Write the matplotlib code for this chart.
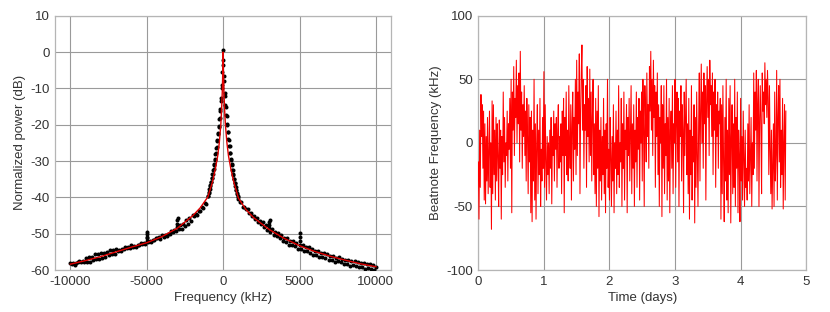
import numpy as np
import matplotlib
matplotlib.use("Agg")
import matplotlib.pyplot as plt

plt.rcParams['font.family'] = ['Liberation Sans', 'DejaVu Sans']
plt.rcParams['axes.unicode_minus'] = False

# ---------------- Left panel data: spectrum ----------------
wing_left_f = np.arange(-10000, -1000, 100)
wing_left_db = [
    -58.1, -58.4, -58.1, -58.5, -58.0, -57.9, -57.4, -57.7, -57.4, -57.8,
    -56.6, -57.9, -56.5, -57.8, -56.4, -57.2, -55.7, -56.9, -55.7, -56.9,
    -55.4, -56.6, -55.3, -56.5, -55.1, -56.0, -54.5, -55.6, -54.5, -55.7,
    -54.2, -54.8, -54.6, -54.8, -54.3, -54.2, -53.7, -53.9, -53.6, -54.0,
    -53.2, -53.6, -53.3, -53.6, -53.2, -53.1, -52.6, -52.8, -52.5, -52.9,
    -52.1, -52.2, -52.0, -52.3, -51.7, -51.7, -51.2, -51.3, -51.0, -51.4,
    -50.5, -50.9, -50.5, -50.7, -50.2, -50.1, -49.4, -49.5, -49.1, -49.4,
    -48.2, -48.8, -47.6, -48.7, -47.2, -47.8, -46.2, -47.2, -45.8, -46.4,
    -44.8, -45.2, -44.6, -44.8, -43.8, -43.7, -42.6, -42.8, -41.5, -41.8,
]
center_f = np.arange(-1000, 1001, 25)
center_db = [
    -39.6, -39.5, -38.6, -38.7, -37.8, -37.6, -36.8, -36.7, -35.8, -35.7,
    -34.8, -34.7, -33.7, -33.5, -32.5, -32.3, -31.2, -30.9, -29.7, -29.5,
    -28.1, -27.8, -26.4, -26.1, -24.6, -24.3, -22.6, -22.3, -20.6, -20.3,
    -18.4, -18.1, -16.2, -15.6, -13.4, -12.7, -10.0, -9.0, -5.5, -3.5,
    0.6,
    -2.2, -6.6, -8.0, -11.2, -12.0, -14.6, -15.1, -17.4, -17.6, -19.7,
    -20.0, -21.9, -22.1, -23.9, -24.1, -25.9, -26.0, -27.7, -27.8, -29.4,
    -29.6, -30.9, -31.1, -32.4, -32.5, -33.7, -33.8, -34.9, -35.0, -36.0,
    -36.1, -37.0, -37.1, -37.9, -38.1, -38.9, -39.0, -39.7, -39.9, -40.5,
]
wing_right_f = np.arange(1100, 10001, 100)
wing_right_db = [
    -41.4, -41.3, -42.7, -42.6, -43.2, -43.2, -44.2, -44.2, -45.2, -45.2,
    -46.0, -45.6, -46.9, -46.5, -47.3, -46.8, -48.1, -47.6, -49.0, -48.5,
    -49.6, -48.8, -50.4, -49.6, -50.6, -49.8, -51.2, -50.5, -52.0, -51.2,
    -52.3, -51.3, -53.0, -51.9, -53.0, -52.1, -53.5, -52.6, -54.2, -53.2,
    -54.3, -53.2, -54.9, -53.7, -54.8, -53.8, -55.3, -54.3, -55.9, -54.8,
    -55.9, -54.8, -56.5, -55.2, -56.3, -55.3, -56.7, -55.7, -57.2, -56.1,
    -57.2, -56.1, -57.7, -56.6, -57.5, -56.5, -57.9, -56.9, -58.3, -57.2,
    -58.4, -57.2, -58.8, -57.6, -58.6, -57.5, -58.9, -57.8, -59.2, -58.2,
    -59.3, -58.0, -59.7, -58.4, -59.4, -58.3, -59.7, -58.6, -60.0, -59.1,
]
spur_f = [-5000, -5000, -5000, -4950, -3000, -3000, -2950, 3000, 3000, 3050, 5000, 5000, 5000]
spur_db = [-51.0, -50.2, -49.5, -51.3, -47.2, -46.2, -45.6, -47.5, -46.8, -46.2, -52.0, -50.8, -49.8]

fit_f = [-10000, -9000, -8000, -7000, -6000, -5000, -4000, -3000, -2000, -1500,
         -1000, -700, -500, -350, -250, -150, -100, -50, -25, 0,
         25, 50, 100, 150, 250, 350, 500, 700, 1000, 1500,
         2000, 3000, 4000, 5000, 6000, 7000, 8000, 9000, 10000]
fit_db = [-58.4, -57.4, -56.3, -55.0, -53.7, -52.5, -50.8, -48.5, -45.1, -42.9,
          -39.9, -35.8, -32.0, -28.5, -25.0, -20.0, -16.0, -10.5, -6.0, 0.0,
          -6.0, -10.5, -16.0, -20.0, -25.0, -28.5, -32.0, -35.8, -40.2, -43.4,
          -45.6, -48.8, -51.3, -53.3, -54.9, -56.2, -57.3, -58.3, -59.1]

# ---------------- Right panel data: beatnote drift ----------------
beat_khz = [
    -15, -60, 10, -35, 38, 5, 30, -20, 25, -45,
    15, -48, 5, -30, 20, -40, -10, 25, -35, 0,
    -68, 33, -40, 30, -25, 10, -45, 20, -30, 15,
    -10, -50, 18, -20, 10, -60, 5, -25, 40, -15,
    20, -35, 0, -10, 25, -30, 15, -5, 35, -20,
    50, -55, 40, 10, 60, -10, 35, 20, 65, 0,
    45, 15, 55, -15, 72, 10, 40, -20, 30, 5,
    45, -10, 25, -30, 35, 5, -40, 30, -15, 20,
    -55, 25, -62, 10, -30, 50, -45, 15, -60, 0,
    30, -40, 10, -25, 35, -50, -5, -30, 20, -20,
    56, -35, 30, -15, -45, 5, -25, 0, -40, 10,
    -20, 20, -48, 5, -10, 25, -30, 15, -5, 20,
    -35, 10, 30, -20, 5, -15, 15, -40, 25, -10,
    35, -55, 20, -10, 40, -25, 10, -30, 45, 0,
    -20, 30, -45, 15, 40, -30, 20, -5, 50, -25,
    65, -10, 40, 15, 70, -40, 25, 55, 77, 10,
    50, -20, 30, 10, 45, -35, 60, 5, 35, -15,
    58, -10, 40, -30, 20, 50, -25, 15, -40, 35,
    -50, 25, -20, 45, -58, 10, -30, 20, -45, 5,
    -25, 35, -40, 10, -55, 15, -20, 50, -35, -5,
    -45, 20, -10, -50, 5, -30, 30, -55, 0, -20,
    25, -40, 10, -25, 45, -35, 0, -15, 35, -50,
    15, -20, 40, -45, 10, -5, 30, -55, 20, -10,
    35, -30, 5, 45, -40, 15, -20, 30, -50, 10,
    -15, 40, -35, 20, -5, 35, -45, 25, 0, 40,
    -30, 50, 10, -50, 45, 20, -15, 55, 5, 30,
    -20, 60, 25, 72, 10, 50, -10, 65, 20, 45,
    -35, 40, 5, 55, -25, 30, -50, 20, 0, 45,
    -58, 30, -20, 45, -40, 15, -10, 50, -45, 20,
    -30, 35, -55, 10, 25, -20, 45, -40, 15, 0,
    50, -35, 20, 40, -15, 35, -50, 25, 5, 45,
    -30, 30, 10, -55, 40, -10, 20, 50, -25, 15,
    -40, 35, -60, 10, -25, 45, -45, 5, -15, 30,
    -63, 20, -35, 40, -10, -50, 15, 55, -30, 25,
    62, 0, 40, -20, 55, 15, 45, -45, 30, 60,
    20, 50, -10, 65, 30, 45, 5, 55, -25, 40,
    10, 50, -35, 30, 5, 40, -20, 25, 15, 35,
    -60, 30, -40, 45, -15, -62, 20, -30, 50, -45,
    10, -55, 35, -25, 45, -63, 5, 30, -40, 15,
    -35, 50, -50, 20, -20, 40, -55, 10, -10, -62,
    35, -30, 5, -45, 25, -15, -50, 10, -35, -20,
    -45, 15, -30, 30, -40, -10, 20, -50, 0, -25,
    55, -20, 40, 10, 57, -30, 30, 50, -50, 20,
    45, 10, -40, 55, 25, 40, 15, 63, 30, 50,
    20, 57, 35, -25, 45, -5, -40, 10, -52, -20,
    15, -50, 40, -30, -10, 57, -45, 20, 45, -15,
    50, -35, 10, -25, 35, -52, 0, 30, -45, 25,
]
time_days = np.arange(len(beat_khz)) * 0.01

left_xticks = [-10000, -5000, 0, 5000, 10000]
left_yticks = [-60, -50, -40, -30, -20, -10, 0, 10]
right_xticks = [0, 1, 2, 3, 4, 5]
right_yticks = [-100, -50, 0, 50, 100]

# ---------------- Figure ----------------
fig = plt.figure(figsize=(8.3, 3.12), dpi=100)
ax1 = fig.add_axes([0.0663, 0.1346, 0.405, 0.815])
ax2 = fig.add_axes([0.5763, 0.1346, 0.395, 0.815])

GRID = '#9a9a9a'
SPINE = '#b5b5b5'
TXT = '#333333'

def style(ax):
    ax.grid(True, color=GRID, lw=0.8)
    ax.set_axisbelow(True)
    for s in ax.spines.values():
        s.set_color(SPINE)
        s.set_linewidth(0.9)
    ax.tick_params(length=0, pad=4, labelsize=9.5, colors=TXT)

f_all = np.concatenate([wing_left_f, center_f, wing_right_f])
db_all = np.concatenate([wing_left_db, center_db, wing_right_db])
ax1.plot(f_all, db_all, 'o', color='black', ms=2.9, mew=0, zorder=3)
ax1.plot(spur_f, spur_db, 'o', color='black', ms=2.9, mew=0, zorder=3)
ax1.plot(fit_f, fit_db, color='#e00000', lw=1.0, zorder=4)
ax1.set_xlim(-11000, 11000)
ax1.set_ylim(-60, 10)
ax1.set_xticks(left_xticks)
ax1.set_yticks(left_yticks)
ax1.set_xlabel('Frequency (kHz)', fontsize=9.5, color=TXT, labelpad=3)
ax1.set_ylabel('Normalized power (dB)', fontsize=9.5, color=TXT, labelpad=3)
style(ax1)

ax2.plot(time_days, beat_khz, color='red', lw=0.75, zorder=3)
ax2.set_xlim(0, 5)
ax2.set_ylim(-100, 100)
ax2.set_xticks(right_xticks)
ax2.set_yticks(right_yticks)
ax2.set_xlabel('Time (days)', fontsize=9.5, color=TXT, labelpad=3)
ax2.set_ylabel('Beatnote Frequency (kHz)', fontsize=9.5, color=TXT, labelpad=3)
style(ax2)

fig.savefig('out.png', dpi=100)
